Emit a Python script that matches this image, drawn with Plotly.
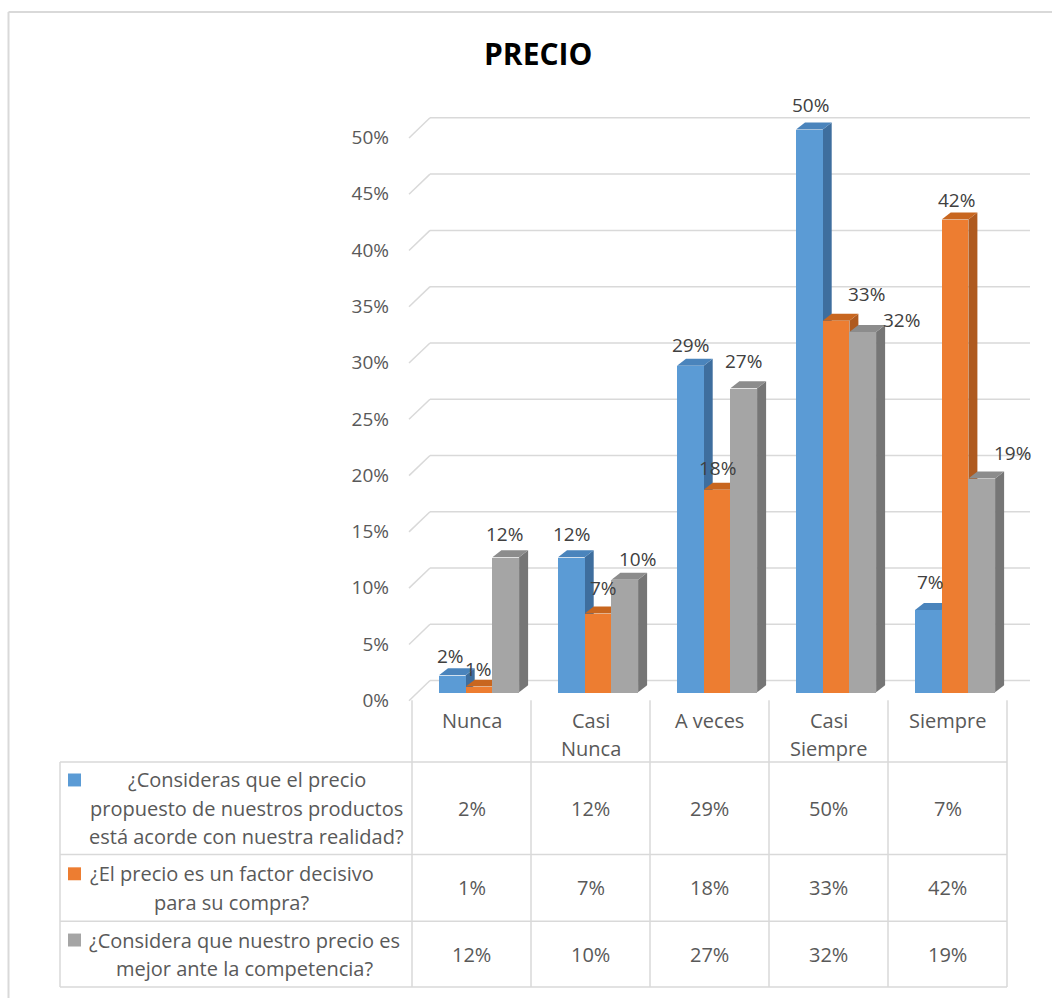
import math
import plotly.graph_objects as go

# ---------------- data ----------------
categories = ["Nunca", "Casi Nunca", "A veces", "Casi Siempre", "Siempre"]
category_lines = [["Nunca"], ["Casi", "Nunca"], ["A veces"], ["Casi", "Siempre"], ["Siempre"]]

series_names = [
    "¿Consideras que el precio propuesto de nuestros productos está acorde con nuestra realidad?",
    "¿El precio es un factor decisivo para su compra?",
    "¿Considera que nuestro precio es mejor ante la competencia?",
]
series_lines = [
    ["¿Consideras que el precio", "propuesto de nuestros productos", "está acorde con nuestra realidad?"],
    ["¿El precio es un factor decisivo", "para su compra?"],
    ["¿Considera que nuestro precio es", "mejor ante la competencia?"],
]

precio_acorde = [1.5, 12, 29, 50, 7.3]
factor_decisivo = [0.5, 7, 18, 33, 42]
mejor_competencia = [12, 10, 27, 32, 19]
series_values = [precio_acorde, factor_decisivo, mejor_competencia]

y_ticks = [0, 5, 10, 15, 20, 25, 30, 35, 40, 45, 50]
y_tick_text = [f"{t}%" for t in y_ticks]

# ---------------- styles ----------------
W, H = 1052, 1002
front_colors = ["#5B9BD5", "#ED7D31", "#A5A5A5"]
side_colors = ["#3E6E9E", "#AF5A1F", "#767676"]
top_colors = ["#4A84BC", "#C8661F", "#8C8C8C"]
grid_color = "#D9D9D9"
text_color = "#595959"
label_color = "#404040"
FONT = "Open Sans"

# pixel geometry of the plot
COL_LEFT_PX = 412.0
COL_W_PX = 119.0
Y0_PX = 695.0
PX_PER_PCT = 11.3
X_DOM_PX = (405.0, 1035.0)
Y_DOM_PX = (712.0, 88.0)

def xdata_of_px(p):
    return -0.5 + (p - COL_LEFT_PX) / COL_W_PX

def ydata_of_px(p):
    return (Y0_PX - p) / PX_PER_PCT

x_range = [xdata_of_px(X_DOM_PX[0]), xdata_of_px(X_DOM_PX[1])]
y_range = [ydata_of_px(Y_DOM_PX[0]), ydata_of_px(Y_DOM_PX[1])]

def px_x(p):
    return p / W

def px_y(p):
    return 1 - p / H

def xpaper_of_data(xd):
    d0, d1 = X_DOM_PX[0] / W, X_DOM_PX[1] / W
    return d0 + (xd - x_range[0]) / (x_range[1] - x_range[0]) * (d1 - d0)

BAR_W = 26.7 / COL_W_PX
bar_offsets = [-19.15 / COL_W_PX, 7.55 / COL_W_PX, 34.25 / COL_W_PX]
DX = 9.0 / COL_W_PX
DY = 7.0 / PX_PER_PCT

GRID_FRONT_X = xdata_of_px(409.0)
GRID_BACK_X = xdata_of_px(430.0)
GRID_RIGHT_X = xdata_of_px(1030.0)
GRID_FRONT_DY = -8.5 / PX_PER_PCT
GRID_BACK_DY = 11.7 / PX_PER_PCT

# data label nudges (pixels)
label_dx = [[-2, 0, 0, 1, 2], [-1, 5, 0, 30, 1], [-1, 13, 0, 39, 31]]
label_dy = [[19, 23, 21, 24, 28], [18, 25, 22, 27, 20], [23, 21, 27, 12, 25]]

def pct_label(v):
    return f"{int(math.floor(v + 0.5))}%"

def text_ann(x, y, text, size, color, xref="paper", yref="paper", **kw):
    d = dict(x=x, y=y, xref=xref, yref=yref, text=text, showarrow=False,
             xanchor="center", yanchor="middle",
             font=dict(family=FONT, size=size, color=color))
    d.update(kw)
    return d

fig = go.Figure()
shapes = []
annotations = []

# gridlines (back wall + left wall diagonals)
for t in y_ticks:
    shapes.append(dict(type="line", xref="x", yref="y", layer="below",
                       x0=GRID_FRONT_X, y0=t + GRID_FRONT_DY, x1=GRID_BACK_X, y1=t + GRID_BACK_DY,
                       line=dict(color=grid_color, width=1.5)))
    shapes.append(dict(type="line", xref="x", yref="y", layer="below",
                       x0=GRID_BACK_X, y0=t + GRID_BACK_DY, x1=GRID_RIGHT_X, y1=t + GRID_BACK_DY,
                       line=dict(color=grid_color, width=1.5)))

# bars: fronts as bar traces, side and top faces as shapes beneath
for s, vals in enumerate(series_values):
    xs = [i + bar_offsets[s] for i in range(len(categories))]
    fig.add_trace(go.Bar(
        x=xs, y=vals, width=BAR_W, name=series_names[s],
        marker=dict(color=front_colors[s], line=dict(width=0)),
        customdata=categories, hovertemplate="%{customdata}: %{y}%<extra></extra>",
        showlegend=False,
    ))
    for i, v in enumerate(vals):
        xl = xs[i] - BAR_W / 2
        xr = xs[i] + BAR_W / 2
        side = f"M {xr},0 L {xr + DX},{DY} L {xr + DX},{v + DY} L {xr},{v} Z"
        top = f"M {xl},{v} L {xr},{v} L {xr + DX},{v + DY} L {xl + DX},{v + DY} Z"
        shapes.append(dict(type="path", path=side, xref="x", yref="y", layer="below",
                           fillcolor=side_colors[s], line=dict(width=0)))
        shapes.append(dict(type="path", path=top, xref="x", yref="y", layer="below",
                           fillcolor=top_colors[s], line=dict(width=0)))
        annotations.append(text_ann(xs[i], v, pct_label(v), 19, label_color, xref="x", yref="y",
                                    xshift=label_dx[s][i], yshift=label_dy[s][i]))

# title
annotations.append(text_ann(px_x(538), px_y(54), "<b>PRECIO</b>", 30, "#000000"))

# ---------------- data table ----------------
TABLE_LEFT = 60.0
row_bounds = [765.0, 858.0, 925.0, 991.0]
header_top = 703.0
header_first = 723.3
line_gap = 28.4
row_text_cx = [246.6, 231.7, 244.3]
key_x = (68.0, 81.0)
tbl_line = dict(color=grid_color, width=1.5)

# vertical column lines
for k in range(len(categories) + 1):
    xp = xpaper_of_data(k - 0.5)
    shapes.append(dict(type="line", xref="paper", yref="paper",
                       x0=xp, x1=xp, y0=px_y(header_top), y1=px_y(row_bounds[-1]), line=tbl_line))
# left border of table rows
shapes.append(dict(type="line", xref="paper", yref="paper",
                   x0=px_x(TABLE_LEFT), x1=px_x(TABLE_LEFT),
                   y0=px_y(row_bounds[0]), y1=px_y(row_bounds[-1]), line=tbl_line))
# horizontal lines
for yb in row_bounds:
    shapes.append(dict(type="line", xref="paper", yref="paper",
                       x0=px_x(TABLE_LEFT), x1=xpaper_of_data(len(categories) - 0.5),
                       y0=px_y(yb), y1=px_y(yb), line=tbl_line))

# header category labels
for i, lines in enumerate(category_lines):
    for j, ln in enumerate(lines):
        annotations.append(text_ann(i, px_y(header_first + j * line_gap), ln, 20, text_color,
                                    xref="x"))

# rows
for s, vals in enumerate(series_values):
    top_b, bot_b = row_bounds[s], row_bounds[s + 1]
    mid = (top_b + bot_b) / 2
    lines = series_lines[s]
    first = mid - (len(lines) - 1) * line_gap / 2
    for j, ln in enumerate(lines):
        annotations.append(text_ann(px_x(row_text_cx[s]), px_y(first + j * line_gap), ln, 20,
                                    text_color))
    shapes.append(dict(type="rect", xref="paper", yref="paper",
                       x0=px_x(key_x[0]), x1=px_x(key_x[1]),
                       y0=px_y(first - 6.5), y1=px_y(first + 6.5),
                       fillcolor=front_colors[s], line=dict(width=0)))
    for i, v in enumerate(vals):
        annotations.append(text_ann(i, px_y(mid), pct_label(v), 20, text_color, xref="x"))

# outer chart border (top and left visible)
shapes.append(dict(type="line", xref="paper", yref="paper", x0=px_x(8.5), x1=1,
                   y0=px_y(12), y1=px_y(12), line=dict(color=grid_color, width=2)))
shapes.append(dict(type="line", xref="paper", yref="paper", x0=px_x(8.5), x1=px_x(8.5),
                   y0=px_y(12), y1=0, line=dict(color=grid_color, width=2)))

fig.update_layout(
    width=W, height=H,
    margin=dict(l=0, r=0, t=0, b=0),
    paper_bgcolor="white", plot_bgcolor="rgba(0,0,0,0)",
    barmode="overlay", bargap=0,
    showlegend=False,
    shapes=shapes, annotations=annotations,
    xaxis=dict(domain=[X_DOM_PX[0] / W, X_DOM_PX[1] / W], range=x_range,
               showgrid=False, zeroline=False, showticklabels=False, showline=False,
               fixedrange=True),
    yaxis=dict(domain=[px_y(Y_DOM_PX[0]), px_y(Y_DOM_PX[1])], range=y_range,
               tickvals=y_ticks, ticktext=y_tick_text, showgrid=False, zeroline=False,
               showline=False, ticks="", ticklabelshift=8, ticklabelstandoff=15,
               tickfont=dict(family=FONT, size=19, color=text_color), fixedrange=True),
    font=dict(family=FONT),
)

fig.write_html("out.html")
